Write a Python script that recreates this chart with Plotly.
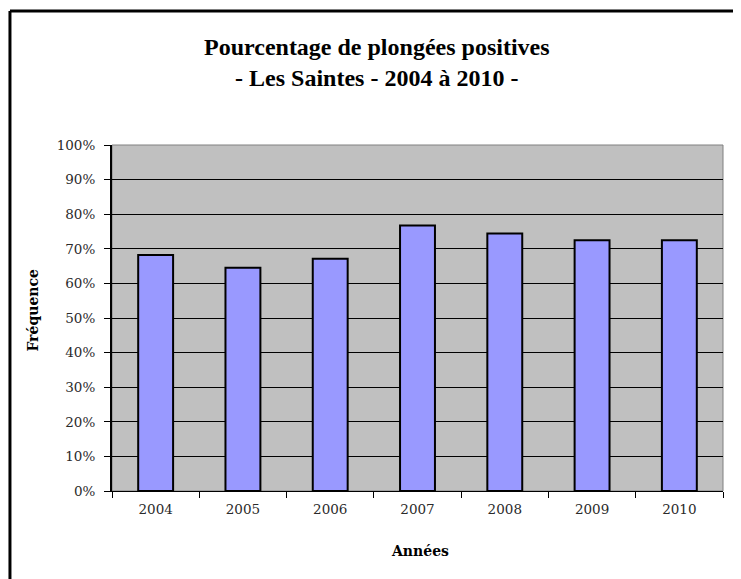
import plotly.graph_objects as go

years = ["2004", "2005", "2006", "2007", "2008", "2009", "2010"]
freq = [0.682, 0.645, 0.671, 0.767, 0.744, 0.725, 0.725]
y_ticks = [0, 0.1, 0.2, 0.3, 0.4, 0.5, 0.6, 0.7, 0.8, 0.9, 1.0]
y_labels = ["0%", "10%", "20%", "30%", "40%", "50%", "60%", "70%", "80%", "90%", "100%"]

serif = "Liberation Serif, Times New Roman, serif"
tick_font = dict(family="DejaVu Serif", size=13.5, color="#2a2a2a")
label_font = dict(family="DejaVu Serif", size=14, color="black")

fig = go.Figure(
    go.Bar(
        x=years,
        y=freq,
        marker=dict(color="#9999FF", line=dict(color="black", width=2)),
        width=0.4,
    )
)

# the page is drawn with an 8px body margin, so the figure is 8px smaller
fig.update_layout(
    width=733,
    height=571,
    margin=dict(l=104, r=18, t=137, b=88),
    paper_bgcolor="white",
    plot_bgcolor="#C0C0C0",
    showlegend=False,
    xaxis=dict(
        tickfont=tick_font,
        showline=True,
        linecolor="black",
        linewidth=1,
        ticks="outside",
        tickson="boundaries",
        ticklen=6,
        tickcolor="black",
        ticklabelstandoff=6,
        showgrid=False,
    ),
    yaxis=dict(
        range=[0, 1.0],
        tickvals=y_ticks,
        ticktext=y_labels,
        tickfont=tick_font,
        showline=True,
        linecolor="black",
        linewidth=2,
        ticks="outside",
        ticklen=6,
        tickcolor="black",
        ticklabelstandoff=6,
        showgrid=True,
        gridcolor="black",
        gridwidth=1,
        zeroline=False,
    ),
    annotations=[
        dict(text="<b>Pourcentage de plongées positives<br>- Les Saintes - 2004 à 2010 -</b>",
             xref="paper", yref="paper", x=0.434, y=1.238, xanchor="center", yanchor="middle",
             showarrow=False, font=dict(family=serif, size=24, color="black")),
        dict(text="<b>Fréquence</b>", xref="paper", yref="paper", x=-0.129, y=0.522,
             xanchor="center", yanchor="middle", textangle=-90, showarrow=False, font=label_font),
        dict(text="<b>Années</b>", xref="paper", yref="paper", x=0.504, y=-0.1725,
             xanchor="center", yanchor="middle", showarrow=False, font=label_font),
    ],
    shapes=[
        dict(type="rect", xref="x domain", yref="y domain", x0=0, x1=1, y0=0, y1=1,
             line=dict(color="#808080", width=1), layer="below"),
        dict(type="line", xref="paper", yref="paper", x0=-0.167, x1=1.1, y0=1.387, y1=1.387,
             line=dict(color="black", width=3)),
        dict(type="line", xref="paper", yref="paper", x0=-0.167, x1=-0.167, y0=1.387, y1=-0.3,
             line=dict(color="black", width=3)),
    ],
)

fig.write_html("out.html")
